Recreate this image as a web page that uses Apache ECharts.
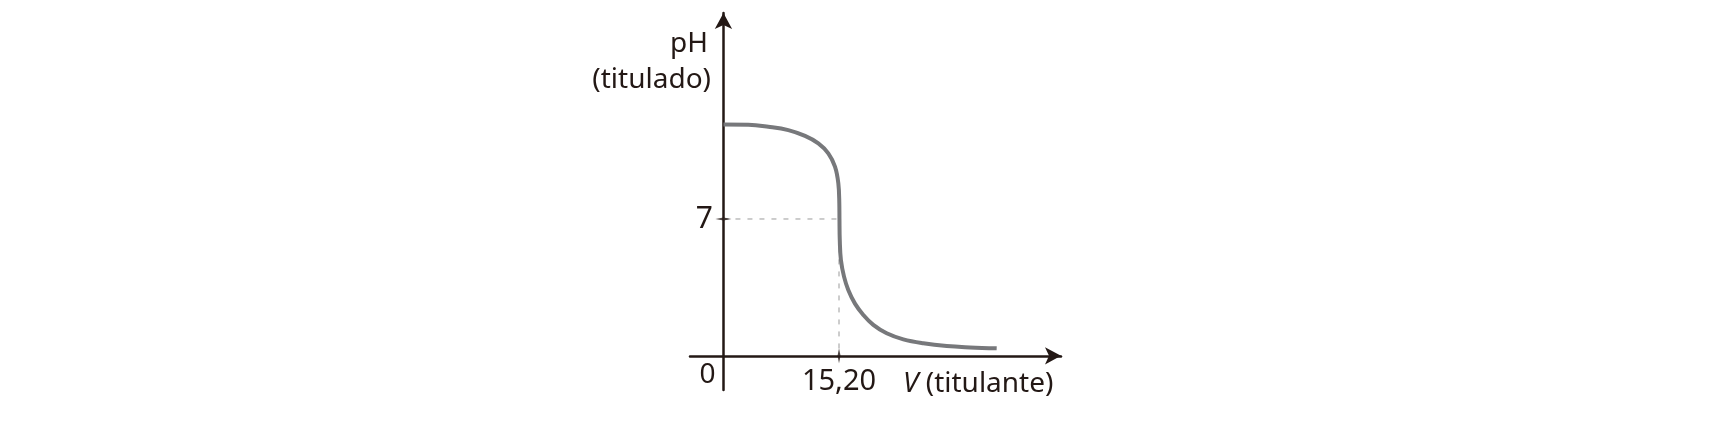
<!DOCTYPE html>
<html>
<head>
<meta charset="utf-8">
<script src="https://cdn.jsdelivr.net/npm/echarts@6/dist/echarts.min.js"></script>
<style>
  html, body { margin: 0; padding: 0; background: #fff; }
  #chart { width: 1726px; height: 428px; }
</style>
</head>
<body>
<div id="chart"></div>
<script>
// curva de titulação (V titulante, pH)
const volume = [0, 3.27, 5.9, 8.53, 10.73, 12.48, 13.79, 14.67, 15.11, 15.24, 15.26, 15.3, 15.45, 15.86, 16.42, 17.3, 18.4, 19.71, 21.47, 23.66, 26.29, 29.37, 32.43, 35.94]
const pH = [11.83, 11.82, 11.72, 11.55, 11.25, 10.87, 10.36, 9.68, 8.83, 7.8, 7.0, 5.93, 4.9, 4.05, 3.37, 2.67, 2.09, 1.58, 1.15, 0.84, 0.64, 0.5, 0.43, 0.38]

// ponto de equivalência
const eqVolume = 15.2
const eqVolumeLabel = '15,20'
const eqPH = 7

const ink = '#231815'
const font = '"Noto Sans", "Open Sans", sans-serif'

const chart = echarts.init(document.getElementById('chart'))

const curve = volume.map((v, i) => [v, pH[i]])

chart.setOption({
  animation: false,
  backgroundColor: '#fff',
  grid: {
    left: 690,
    top: 13,
    width: 371,
    height: 377,
    outerBoundsMode: 'none',
  },
  xAxis: {
    type: 'value',
    min: -4.4,
    max: 44.4,
    splitLine: { show: false },
    axisTick: { show: false },
    axisLine: {
      onZero: true,
      symbol: ['none', 'arrow'],
      symbolSize: [13, 16],
      lineStyle: { color: ink, width: 2.5 },
    },
    axisLabel: {
      // os rótulos ficam na borda do grid, então puxamos para o eixo em zero
      customValues: [eqVolume],
      formatter: () => eqVolumeLabel,
      margin: -23,
      fontSize: 29,
      fontFamily: font,
      color: ink,
    },
  },
  yAxis: {
    type: 'value',
    min: -1.75,
    max: 17.54,
    splitLine: { show: false },
    axisTick: { show: false },
    axisLine: {
      onZero: true,
      symbol: ['none', 'arrow'],
      symbolSize: [13, 16],
      lineStyle: { color: ink, width: 2.5 },
    },
    axisLabel: {
      customValues: [eqPH],
      formatter: (v) => String(v),
      margin: -23,
      fontSize: 30,
      fontFamily: font,
      color: ink,
    },
  },
  graphic: [
    {
      type: 'text',
      x: 708,
      y: 44,
      style: { text: 'pH', fontSize: 28, fontFamily: font, fill: ink, align: 'right', verticalAlign: 'middle' },
    },
    {
      type: 'text',
      x: 711,
      y: 80,
      style: { text: '(titulado)', fontSize: 28, fontFamily: font, fill: ink, align: 'right', verticalAlign: 'middle' },
    },
    {
      type: 'text',
      x: 707.5,
      y: 375,
      style: { text: '0', fontSize: 28, fontFamily: font, fill: ink, align: 'center', verticalAlign: 'middle' },
    },
    {
      type: 'text',
      x: 903,
      y: 384,
      style: {
        text: '{i|V} (titulante)',
        fontSize: 28,
        fontFamily: font,
        fill: ink,
        align: 'left',
        verticalAlign: 'middle',
        rich: {
          i: { fontStyle: 'italic', fontSize: 28, fontFamily: font, fill: ink },
        },
      },
    },
  ],
  series: [
    {
      // linhas tracejadas até o ponto de equivalência
      type: 'line',
      data: [[0, eqPH], [eqVolume, eqPH], [eqVolume, 0]],
      showSymbol: false,
      silent: true,
      z: 1,
      lineStyle: { color: '#9a9a9a', width: 1, type: [5, 7] },
    },
    {
      type: 'line',
      data: curve,
      smooth: 0.4,
      showSymbol: false,
      z: 3,
      lineStyle: { color: '#77787b', width: 4 },
    },
    {
      // marcas nos eixos
      type: 'scatter',
      data: [
        { value: [0, eqPH], symbolSize: [16, 3] },
        { value: [eqVolume, 0], symbolSize: [3, 15] },
      ],
      symbol: 'diamond',
      z: 4,
      itemStyle: { color: ink },
    },
  ],
})
</script>
</body>
</html>
